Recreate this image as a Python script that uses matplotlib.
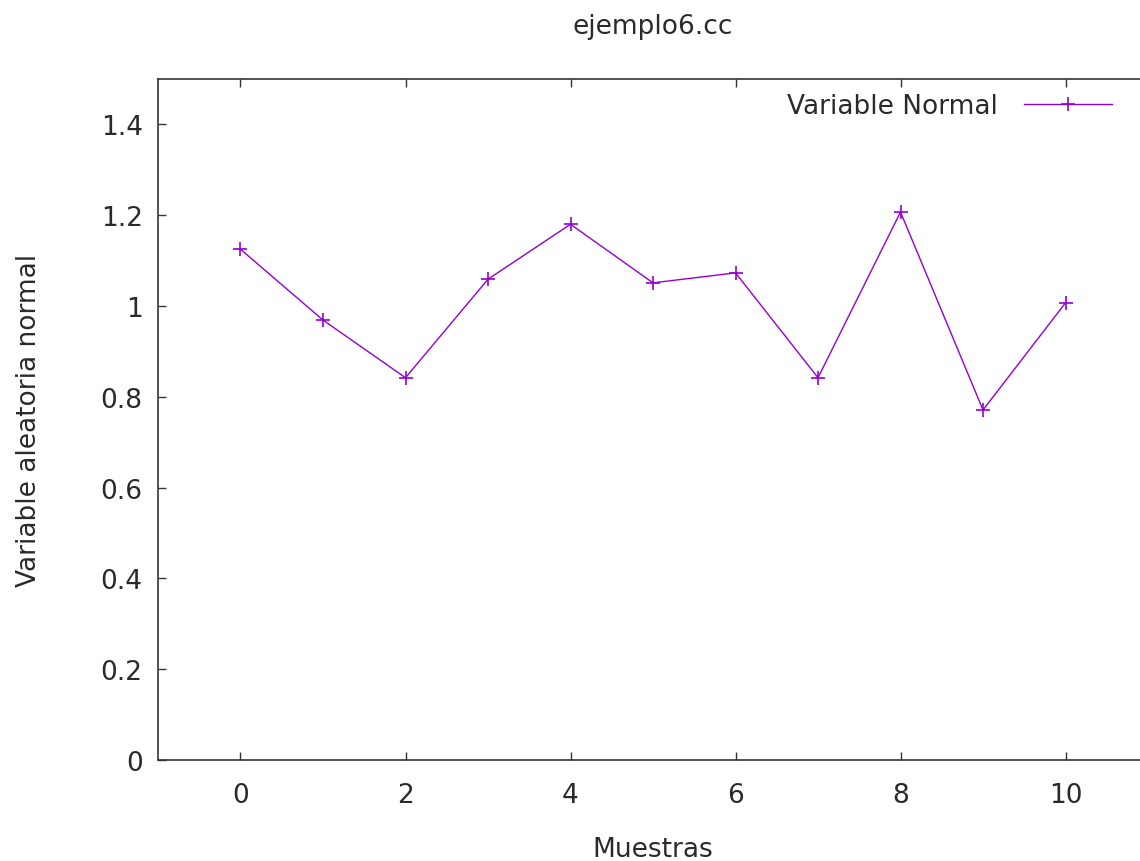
import matplotlib
matplotlib.use('Agg')

import matplotlib.pyplot as plt

# Data
muestras = [0, 1, 2, 3, 4, 5, 6, 7, 8, 9, 10]
valores = [1.125, 0.969, 0.842, 1.059, 1.180, 1.051, 1.073, 0.842, 1.207, 0.771, 1.007]

x_ticks = [0, 2, 4, 6, 8, 10]
y_ticks = [0, 0.2, 0.4, 0.6, 0.8, 1.0, 1.2, 1.4]
y_tick_labels = ['0', '0.2', '0.4', '0.6', '0.8', '1', '1.2', '1.4']

plt.rcParams['font.family'] = 'DejaVu Sans'
fs = 19
text_color = '#2a2a2a'

fig = plt.figure(figsize=(11.4, 8.62), dpi=100)
# plot area extends slightly past the right edge, as in the reference
ax = fig.add_axes([158 / 1140, 101 / 862, 990 / 1140, 681 / 862])

ax.plot(muestras, valores, color='#9400D3', linewidth=1.0, marker='+',
        markersize=10, markeredgewidth=1.2, label='Variable Normal')

ax.set_xlim(-1, 11)
ax.set_ylim(0, 1.5)
ax.set_xticks(x_ticks)
ax.set_yticks(y_ticks)
ax.set_yticklabels(y_tick_labels)

ax.tick_params(direction='in', length=6, width=1.0, top=True, right=True,
               labelsize=fs, colors='#333333', labelcolor=text_color)
ax.tick_params(axis='x', pad=16)
ax.tick_params(axis='y', pad=11)
for sp in ax.spines.values():
    sp.set_linewidth(1.2)
    sp.set_color('#333333')

ax.set_title('ejemplo6.cc', fontsize=fs, color=text_color, pad=33)
ax.set_xlabel('Muestras', fontsize=fs, color=text_color, labelpad=20)
ax.set_ylabel('Variable aleatoria normal', fontsize=fs, color=text_color, labelpad=42)

leg = ax.legend(loc='upper right',
                bbox_to_anchor=((1112 - 158 + 18) / 990, 1.0 + 4 / 681),
                frameon=False, markerfirst=False, fontsize=fs, handlelength=3.3,
                handletextpad=1.0, borderaxespad=0.3)
for t in leg.get_texts():
    t.set_color(text_color)

fig.savefig('out.png', dpi=100)
